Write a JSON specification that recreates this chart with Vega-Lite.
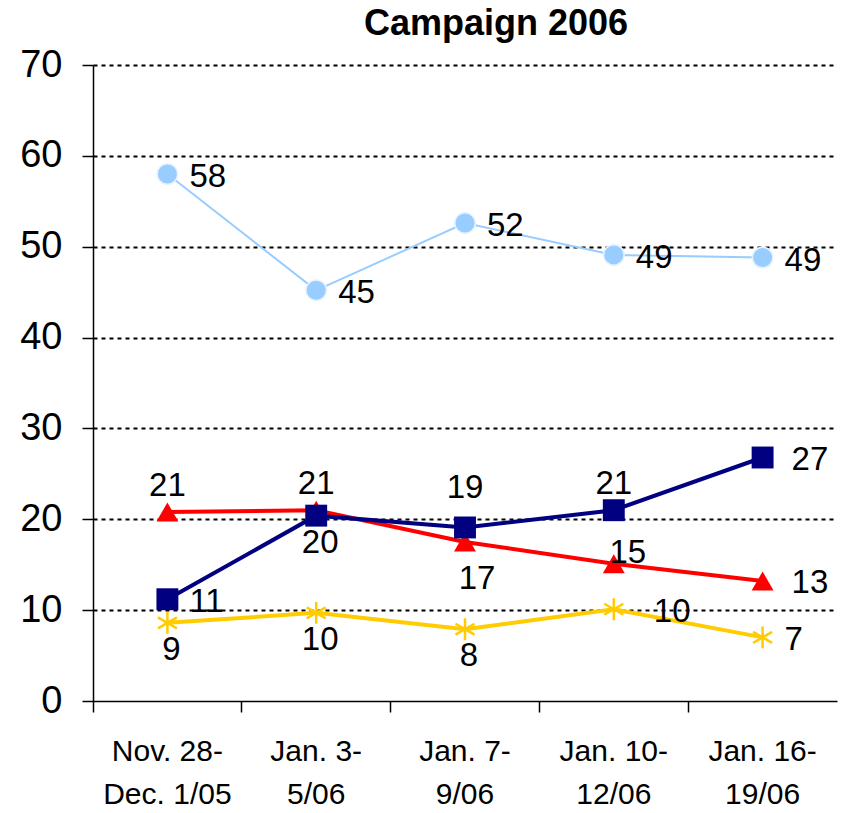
{
  "$schema": "https://vega.github.io/schema/vega-lite/v6.json",
  "width": 744,
  "height": 636,
  "autosize": {"type": "none"},
  "padding": {"left": 93, "top": 65, "right": 11, "bottom": 112},
  "background": "white",
  "title": {
    "text": "Campaign 2006",
    "font": "Liberation Sans",
    "fontSize": 36,
    "fontWeight": "bold",
    "color": "black",
    "anchor": "middle",
    "dx": 31,
    "offset": 3
  },
  "config": {
    "view": {"stroke": null},
    "font": "Liberation Sans",
    "text": {"font": "Liberation Sans"}
  },
  "data": {
    "values": [
      {"series": "Series A", "wave": 1, "date": "Nov. 28-Dec. 1/05", "value": 58.0, "label": "58"},
      {"series": "Series A", "wave": 2, "date": "Jan. 3-5/06", "value": 45.2, "label": "45"},
      {"series": "Series A", "wave": 3, "date": "Jan. 7-9/06", "value": 52.6, "label": "52"},
      {"series": "Series A", "wave": 4, "date": "Jan. 10-12/06", "value": 49.1, "label": "49"},
      {"series": "Series A", "wave": 5, "date": "Jan. 16-19/06", "value": 48.8, "label": "49"},
      {"series": "Series B", "wave": 1, "date": "Nov. 28-Dec. 1/05", "value": 20.8, "label": "21"},
      {"series": "Series B", "wave": 2, "date": "Jan. 3-5/06", "value": 21.0, "label": "21"},
      {"series": "Series B", "wave": 3, "date": "Jan. 7-9/06", "value": 17.5, "label": "17"},
      {"series": "Series B", "wave": 4, "date": "Jan. 10-12/06", "value": 15.1, "label": "15"},
      {"series": "Series B", "wave": 5, "date": "Jan. 16-19/06", "value": 13.2, "label": "13"},
      {"series": "Series C", "wave": 1, "date": "Nov. 28-Dec. 1/05", "value": 11.2, "label": "11"},
      {"series": "Series C", "wave": 2, "date": "Jan. 3-5/06", "value": 20.4, "label": "20"},
      {"series": "Series C", "wave": 3, "date": "Jan. 7-9/06", "value": 19.1, "label": "19"},
      {"series": "Series C", "wave": 4, "date": "Jan. 10-12/06", "value": 21.0, "label": "21"},
      {"series": "Series C", "wave": 5, "date": "Jan. 16-19/06", "value": 26.8, "label": "27"},
      {"series": "Series D", "wave": 1, "date": "Nov. 28-Dec. 1/05", "value": 8.6, "label": "9"},
      {"series": "Series D", "wave": 2, "date": "Jan. 3-5/06", "value": 9.7, "label": "10"},
      {"series": "Series D", "wave": 3, "date": "Jan. 7-9/06", "value": 7.9, "label": "8"},
      {"series": "Series D", "wave": 4, "date": "Jan. 10-12/06", "value": 10.1, "label": "10"},
      {"series": "Series D", "wave": 5, "date": "Jan. 16-19/06", "value": 7.0, "label": "7"}
    ]
  },
  "encoding": {
    "y": {
      "field": "value",
      "type": "quantitative",
      "scale": {"domain": [0, 70], "nice": false, "zero": true},
      "axis": {
        "title": null,
        "values": [0, 10, 20, 30, 40, 50, 60, 70],
        "labelFont": "Liberation Sans",
        "labelFontSize": 38,
        "labelColor": "black",
        "labelPadding": 20,
        "tickSize": 11,
        "tickColor": "black",
        "tickWidth": 1.5,
        "domainColor": "black",
        "domainWidth": 1.5,
        "grid": true,
        "gridColor": {"condition": {"test": "datum.value == 0", "value": "transparent"}, "value": "black"},
        "gridDash": [4, 4],
        "gridWidth": 2,
        "gridOpacity": 1
      }
    }
  },
  "layer": [
    {
      "transform": [{"filter": "datum.series == 'Series A'"}],
      "mark": {"type": "line", "color": "#99CCFF", "strokeWidth": 2},
      "encoding": {
        "x": {
          "field": "date",
          "type": "nominal",
          "sort": null,
          "scale": {"type": "band", "paddingInner": 0, "paddingOuter": 0, "domain": ["Nov. 28-Dec. 1/05", "Jan. 3-5/06", "Jan. 7-9/06", "Jan. 10-12/06", "Jan. 16-19/06"]},
          "axis": {
            "title": null,
            "orient": "bottom",
            "labelAngle": 0,
            "ticks": false,
            "domain": true,
            "domainColor": "black",
            "domainWidth": 1.5,
            "labelFont": "Liberation Sans",
            "labelFontSize": 30,
            "labelColor": "black",
            "labelLineHeight": 43,
            "labelPadding": 35,
            "labelExpr": "[slice(datum.label, 0, indexof(datum.label, '-') + 1), slice(datum.label, indexof(datum.label, '-') + 1)]"
          }
        },
        "order": {"field": "wave", "type": "quantitative"}
      }
    },
    {
      "transform": [{"filter": "datum.series == 'Series D'"}],
      "mark": {"type": "line", "color": "#FFCC00", "strokeWidth": 4},
      "encoding": {
        "x": {"field": "date", "type": "nominal", "sort": null, "axis": null},
        "order": {"field": "wave", "type": "quantitative"}
      }
    },
    {
      "transform": [{"filter": "datum.series == 'Series B'"}],
      "mark": {"type": "line", "color": "#FF0000", "strokeWidth": 4},
      "encoding": {
        "x": {"field": "date", "type": "nominal", "sort": null, "axis": null},
        "order": {"field": "wave", "type": "quantitative"}
      }
    },
    {
      "transform": [{"filter": "datum.series == 'Series C'"}],
      "mark": {"type": "line", "color": "#000080", "strokeWidth": 4},
      "encoding": {
        "x": {"field": "date", "type": "nominal", "sort": null, "axis": null},
        "order": {"field": "wave", "type": "quantitative"}
      }
    },
    {
      "transform": [{"filter": "datum.series == 'Series A'"}],
      "mark": {"type": "point", "filled": true, "shape": "circle", "size": 420, "color": "#99CCFF", "stroke": "#E6F2FF", "strokeWidth": 1.5, "opacity": 1},
      "encoding": {
        "x": {
          "field": "date",
          "type": "nominal",
          "sort": null,
          "axis": {
            "title": null,
            "orient": "bottom",
            "labels": false,
            "domain": false,
            "ticks": true,
            "tickSize": 11,
            "tickColor": "black",
            "tickWidth": 1.5,
            "bandPosition": 0,
            "grid": false
          }
        }
      }
    },
    {
      "transform": [{"filter": "datum.series == 'Series B'"}],
      "mark": {"type": "point", "filled": true, "shape": "triangle-up", "size": 480, "color": "#FF0000", "opacity": 1},
      "encoding": {
        "x": {"field": "date", "type": "nominal", "sort": null, "axis": null}
      }
    },
    {
      "transform": [{"filter": "datum.series == 'Series C'"}],
      "mark": {"type": "point", "filled": true, "shape": "square", "size": 480, "color": "#000080", "opacity": 1},
      "encoding": {
        "x": {"field": "date", "type": "nominal", "sort": null, "axis": null}
      }
    },
    {
      "transform": [{"filter": "datum.series == 'Series D'"}],
      "mark": {"type": "point", "filled": false, "shape": "M0,-1L0,1M-0.87,-0.5L0.87,0.5M-0.87,0.5L0.87,-0.5", "size": 480, "stroke": "#FFCC00", "strokeWidth": 2.5, "opacity": 1},
      "encoding": {
        "x": {"field": "date", "type": "nominal", "sort": null, "axis": null}
      }
    },
    {
      "transform": [{"filter": "datum.series == 'Series A' || (datum.series == 'Series C' && datum.wave == 1) || (datum.series == 'Series D' && datum.wave == 5)"}],
      "mark": {"type": "text", "align": "left", "baseline": "middle", "dx": 22, "dy": 3, "fontSize": 33, "color": "black"},
      "encoding": {"x": {"field": "date", "type": "nominal", "sort": null, "axis": null}, "text": {"field": "label"}}
    },
    {
      "transform": [{"filter": "(datum.series == 'Series C' || datum.series == 'Series B') && datum.wave == 5"}],
      "mark": {"type": "text", "align": "left", "baseline": "middle", "dx": 29, "dy": 2, "fontSize": 33, "color": "black"},
      "encoding": {"x": {"field": "date", "type": "nominal", "sort": null, "axis": null}, "text": {"field": "label"}}
    },
    {
      "transform": [{"filter": "datum.series == 'Series D' && datum.wave == 4"}],
      "mark": {"type": "text", "align": "left", "baseline": "middle", "dx": 40, "dy": 3, "fontSize": 33, "color": "black"},
      "encoding": {"x": {"field": "date", "type": "nominal", "sort": null, "axis": null}, "text": {"field": "label"}}
    },
    {
      "transform": [{"filter": "(datum.series == 'Series B' && (datum.wave == 1 || datum.wave == 2)) || (datum.series == 'Series C' && datum.wave == 4)"}],
      "mark": {"type": "text", "align": "center", "baseline": "middle", "dy": -26, "fontSize": 33, "color": "black"},
      "encoding": {"x": {"field": "date", "type": "nominal", "sort": null, "axis": null}, "text": {"field": "label"}}
    },
    {
      "transform": [{"filter": "datum.series == 'Series C' && datum.wave == 3"}],
      "mark": {"type": "text", "align": "center", "baseline": "middle", "dy": -39, "fontSize": 33, "color": "black"},
      "encoding": {"x": {"field": "date", "type": "nominal", "sort": null, "axis": null}, "text": {"field": "label"}}
    },
    {
      "transform": [{"filter": "(datum.series == 'Series C' && datum.wave == 2) || (datum.series == 'Series D' && datum.wave <= 3)"}],
      "mark": {"type": "text", "align": "center", "baseline": "middle", "dx": 4, "dy": 27, "fontSize": 33, "color": "black"},
      "encoding": {"x": {"field": "date", "type": "nominal", "sort": null, "axis": null}, "text": {"field": "label"}}
    },
    {
      "transform": [{"filter": "datum.series == 'Series B' && datum.wave == 3"}],
      "mark": {"type": "text", "align": "center", "baseline": "middle", "dx": 12, "dy": 37, "fontSize": 33, "color": "black"},
      "encoding": {"x": {"field": "date", "type": "nominal", "sort": null, "axis": null}, "text": {"field": "label"}}
    },
    {
      "transform": [{"filter": "datum.series == 'Series B' && datum.wave == 4"}],
      "mark": {"type": "text", "align": "center", "baseline": "middle", "dx": 14, "dy": -11, "fontSize": 33, "color": "black"},
      "encoding": {"x": {"field": "date", "type": "nominal", "sort": null, "axis": null}, "text": {"field": "label"}}
    }
  ],
  "resolve": {"axis": {"x": "independent"}}
}
